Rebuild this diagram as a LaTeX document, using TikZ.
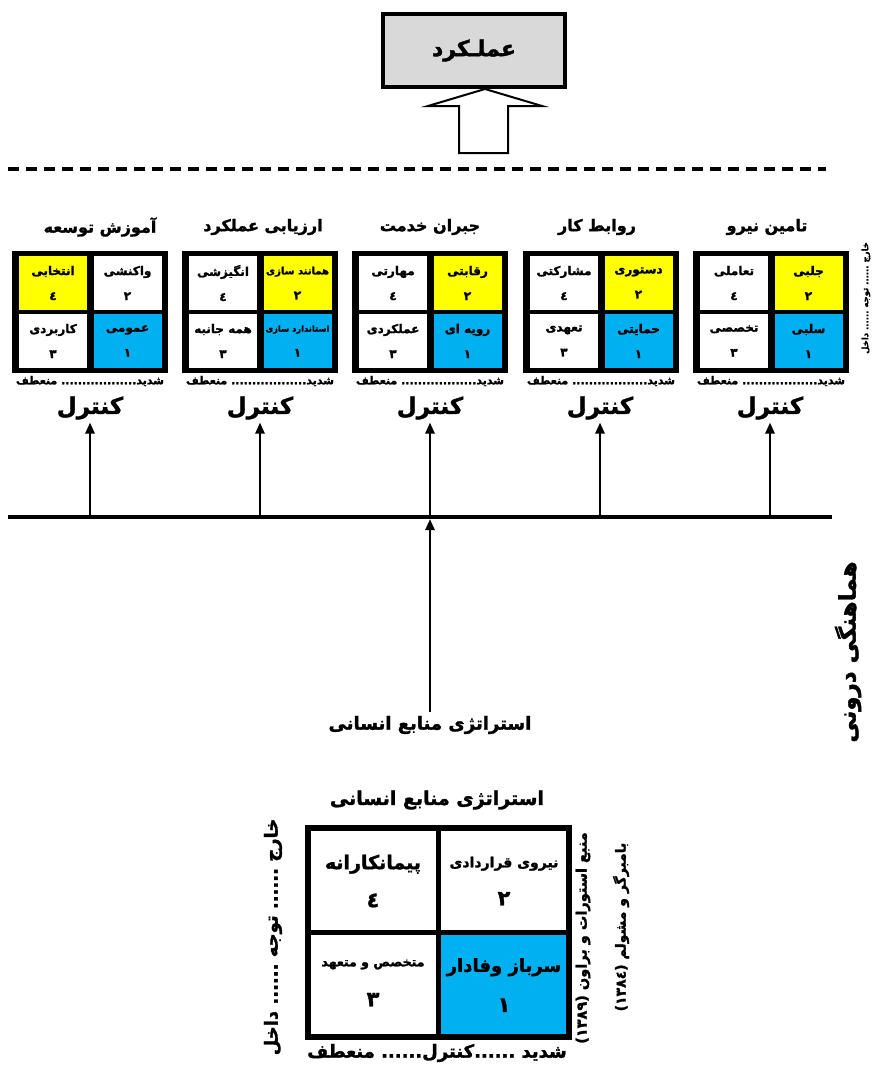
\documentclass[tikz,border=0pt]{standalone}
\usepackage{fontspec}
\newfontfamily\ar[Script=Arabic,BoldFeatures={FakeBold=1.6}]{DejaVu Sans}
\TeXXeTstate=1
\usetikzlibrary{arrows.meta}
\definecolor{cyanb}{HTML}{00B0F0}
\definecolor{ylw}{HTML}{FFFF00}
\definecolor{gry}{HTML}{D9D9D9}
\newcommand\RTx[1]{\beginR #1\endR}
\newcommand\dts[1]{\hbox{#1}}
\newcommand\fs[1]{\fontsize{#1}{#1}\selectfont}
\newcommand\qmat[8]{%
  \node[mout] (#1) at ({#2+78},312) {};
  \node[mcell,fill=#4] (#1a) at ({#2+41},283) {#3\\٤};
  \node[mcell,fill=#6] (#1b) at ({#2+115.5},283) {#5\\٢};
  \node[mcell,fill=white] (#1c) at ({#2+41},341) {#7\\٣};
  \node[mcell,fill=cyanb] (#1d) at ({#2+115.5},341) {#8\\١};
  \node[sdl] (#1s) at ({#2+78},381) {\RTx{شدید\dts{..................} منعطف}};
}
\begin{document}
\begin{tikzpicture}[x=1pt,y=-1pt,
  every node/.style={inner sep=0pt,outer sep=0pt},
  ttl/.style={font=\ar\bfseries\fs{16}},
  mout/.style={fill=black,minimum width=156,minimum height=122},
  mcell/.style={minimum width=68,minimum height=54,align=center,font=\ar\bfseries\fontsize{12}{25}\selectfont},
  sdl/.style={font=\ar\bfseries\fs{11}},
  ktl/.style={font=\ar\bfseries\fs{23}},
  varr/.style={line width=2.5pt,-{Triangle[length=11pt,width=9pt]},shorten >=3pt},
  bcell/.style={minimum width=126,minimum height=101,align=center},
]
\useasboundingbox (0,0) rectangle (886,1068);

% top box and hollow arrow
\node[draw,line width=4pt,fill=gry,minimum width=182,minimum height=73,font=\ar\bfseries\fs{22}] (perf) at (474,50.5) {عملـکرد};
\draw[line width=2pt,fill=white] (459,153) -- (459,106) -- (428,106) -- (485,89) -- (542,106) -- (508,106) -- (508,153) -- cycle;

% dashed separator
\coordinate (dl) at (8,169);
\coordinate (dr) at (826,169);
\draw[line width=4pt,dash pattern=on 11pt off 7pt] (dl) -- (dr);

% titles
\node[ttl] (t1) at (100,227) {\RTx{آموزش توسعه}};
\node[ttl] (t2) at (263,227) {\RTx{ارزیابی عملکرد}};
\node[ttl] (t3) at (430,227) {\RTx{جبران خدمت}};
\node[ttl] (t4) at (597,227) {\RTx{روابط کار}};
\node[ttl] (t5) at (767,227) {\RTx{تامین نیرو}};

% matrices
\qmat{m1}{12}{انتخابی}{ylw}{واکنشی}{white}{کاربردی}{عمومی}
\qmat{m2}{182}{انگیزشی}{white}{\fs{10}\RTx{همانند سازی}}{ylw}{\RTx{همه جانبه}}{\fs{8.3}\RTx{استاندارد سازی}}
\qmat{m3}{352}{مهارتی}{white}{رقابتی}{ylw}{عملکردی}{\RTx{رویه ای}}
\qmat{m4}{523}{مشارکتی}{white}{دستوری}{ylw}{تعهدی}{حمایتی}
\qmat{m5}{693}{تعاملی}{white}{جلبی}{ylw}{تخصصی}{سلبی}

\node[font=\ar\bfseries\fs{8.5},rotate=90] (att1) at (866,298) {\RTx{خارج \dts{......} توجه \dts{......} داخل}};

% control labels
\node[ktl] (k1) at (90,408) {کنترل};
\node[ktl] (k2) at (260,408) {کنترل};
\node[ktl] (k3) at (430,408) {کنترل};
\node[ktl] (k4) at (600,408) {کنترل};
\node[ktl] (k5) at (770,408) {کنترل};

% horizontal bar
\coordinate (hl) at (8,517);
\coordinate (hr) at (832,517);
\draw[line width=4pt] (hl) -- (hr);
\coordinate (b1) at (90,517);
\coordinate (b2) at (260,517);
\coordinate (b3) at (430,517);
\coordinate (b4) at (600,517);
\coordinate (b5) at (770,517);
\draw[varr] (b1) -- (k1.south);
\draw[varr] (b2) -- (k2.south);
\draw[varr] (b3) -- (k3.south);
\draw[varr] (b4) -- (k4.south);
\draw[varr] (b5) -- (k5.south);

% strategy
\node[font=\ar\bfseries\fs{18}] (hrs) at (430,725) {\RTx{استراتژی منابع انسانی}};
\coordinate (c0) at (430,519);
\draw[line width=2.5pt,-{Triangle[length=11pt,width=9pt]},shorten <=4pt] (hrs.north) -- (c0);

\node[font=\ar\bfseries\fs{23},rotate=90] (coh) at (848,652) {\RTx{هماهنگی درونی}};

% bottom matrix
\node[font=\ar\bfseries\fs{19}] (btitle) at (437,800) {\RTx{استراتژی منابع انسانی}};
\node[bcell,fill=cyanb,minimum width=130,minimum height=105,font=\ar\bfseries\fontsize{18}{40}\selectfont] (q1) at (504,985) {\RTx{سرباز وفادار}\\{\fs{21}١}};
\node[bcell,font=\ar\bfseries\fontsize{14}{38}\selectfont] (q2) at (504,881) {\RTx{نیروی قراردادی}\\{\fs{21}٢}};
\node[bcell,font=\ar\bfseries\fontsize{19}{38}\selectfont] (q4) at (373,881) {پیمانکارانه\\{\fs{21}٤}};
\node[bcell,font=\ar\bfseries\fontsize{12.5}{40}\selectfont] (q3) at (373,983) {\RTx{متخصص و متعهد}\\{\fs{21}٣}};
\node[draw,line width=6pt,minimum width=261,minimum height=209] (bm) at (438.5,932.5) {};
\draw[line width=5pt] (bm.north) -- (bm.south);
\draw[line width=5pt] (bm.west) -- (bm.east);

\node[font=\ar\bfseries\fs{18},rotate=90] (att2) at (273,937) {\RTx{خارج \dts{......} توجه \dts{......} داخل}};
\node[font=\ar\bfseries\fs{18}] (ctl2) at (437,1053) {\RTx{شدید \dts{......}کنترل\dts{......} منعطف}};
\node[font=\ar\bfseries\fs{14.5},rotate=90] (src1) at (583,938) {\RTx{منبع استورات و براون \dts{(١٣٨٩)}}};
\node[font=\ar\bfseries\fs{14},rotate=90] (src2) at (621,927) {\RTx{بامبرگر و مشولم \dts{(١٣٨٤)}}};
\end{tikzpicture}
\end{document}
